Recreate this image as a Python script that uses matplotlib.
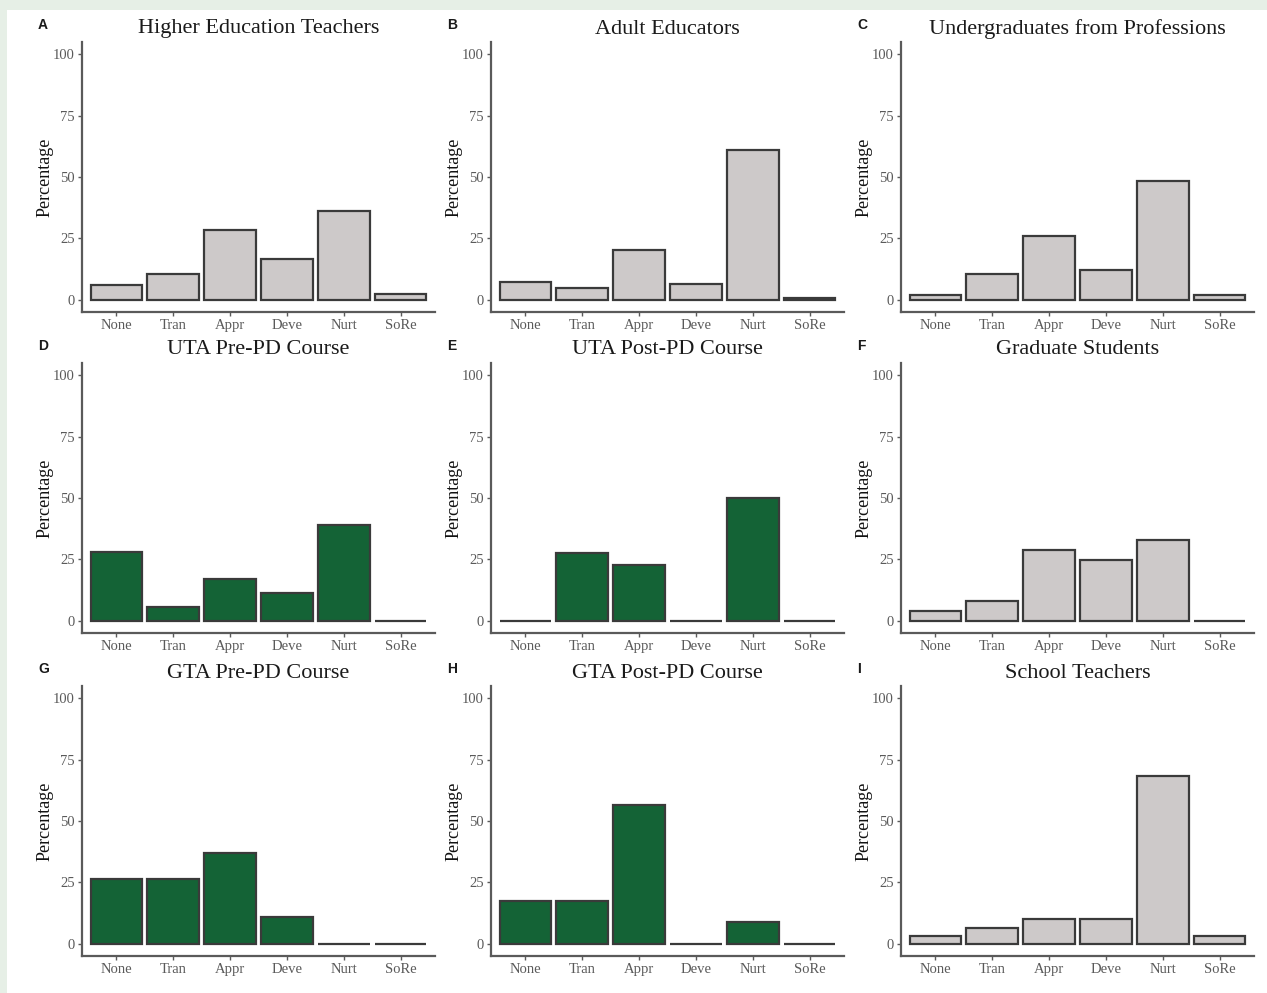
import matplotlib
matplotlib.use('Agg')
import matplotlib.pyplot as plt
from matplotlib.patches import Rectangle

# response categories shared by every panel
categories = ["None", "Tran", "Appr", "Deve", "Nurt", "SoRe"]

# percentage per category, one list per group
higher_ed = [5.8, 10.5, 28.5, 16.5, 36.0, 2.4]
adult_ed = [7.4, 4.9, 20.2, 6.6, 60.8, 0.7]
undergrad_prof = [2.0, 10.5, 26.0, 12.1, 48.3, 2.0]
uta_pre = [27.9, 5.7, 16.8, 11.1, 38.8, 0.0]
uta_post = [0.0, 27.4, 22.6, 0.0, 50.0, 0.0]
grad_students = [4.0, 8.1, 29.0, 24.9, 33.0, 0.0]
gta_pre = [26.4, 26.4, 37.1, 10.8, 0.0, 0.0]
gta_post = [17.6, 17.6, 56.5, 0.0, 8.8, 0.0]
school_teachers = [3.2, 6.3, 10.0, 10.2, 68.5, 3.0]

titles = ["Higher Education Teachers", "Adult Educators", "Undergraduates from Professions",
          "UTA Pre-PD Course", "UTA Post-PD Course", "Graduate Students",
          "GTA Pre-PD Course", "GTA Post-PD Course", "School Teachers"]
letters = ["A", "B", "C", "D", "E", "F", "G", "H", "I"]
series = [higher_ed, adult_ed, undergrad_prof,
          uta_pre, uta_post, grad_students,
          gta_pre, gta_post, school_teachers]
# UTA/GTA panels are the highlighted (green) ones
highlight = [False, False, False, True, True, False, True, True, False]

GREY = "#cdc9c9"
GREEN = "#146336"
EDGE = "#3a3a3a"
AXIS = "#5a5a5a"
SERIF = ["Liberation Serif", "DejaVu Serif"]

W, H = 1267, 993
fig = plt.figure(figsize=(W / 100, H / 100), dpi=100, facecolor="white")

# thin tinted border along top and left edge
fig.patches.append(Rectangle((0, 1 - 10 / H), 1, 10 / H, transform=fig.transFigure,
                             facecolor="#e6efe6", edgecolor="none", zorder=0))
fig.patches.append(Rectangle((0, 0), 7 / W, 1, transform=fig.transFigure,
                             facecolor="#e6efe6", edgecolor="none", zorder=0))

col_left = [82, 491, 901]
row_top = [42, 363, 686]
ax_w, ax_h = 353, 270

x = list(range(len(categories)))
for i in range(9):
    r, c = divmod(i, 3)
    left, top = col_left[c], row_top[r]
    ax = fig.add_axes([left / W, 1 - (top + ax_h) / H, ax_w / W, ax_h / H])
    fill = GREEN if highlight[i] else GREY
    ax.bar(x, series[i], width=0.9, color=fill, edgecolor=EDGE, linewidth=1.6, zorder=3)

    ax.set_xlim(-0.6, 5.6)
    ax.set_ylim(-5, 105)
    ax.set_yticks([0, 25, 50, 75, 100])
    ax.set_xticks(x)
    ax.set_xticklabels(categories)
    for s in ["top", "right"]:
        ax.spines[s].set_visible(False)
    for s in ["left", "bottom"]:
        ax.spines[s].set_color(AXIS)
        ax.spines[s].set_linewidth(1.6)
    ax.tick_params(axis="both", length=3, width=1, color=AXIS, pad=2,
                   labelsize=10.5, labelcolor="#5a5a5a")
    for lab in ax.get_xticklabels() + ax.get_yticklabels():
        lab.set_family(SERIF)
    ax.set_ylabel("Percentage", family=SERIF, fontsize=13, color="#111111", labelpad=-0.5)

    fig.text((left + ax_w / 2) / W, 1 - (top - 13) / H, titles[i], family=SERIF,
             fontsize=16, color="#1a1a1a", ha="center", va="center")
    fig.text((left - 44) / W, 1 - (top - 17) / H, letters[i], family=["Liberation Sans", "DejaVu Sans"],
             fontsize=10, fontweight="bold", color="#1a1a1a", ha="left", va="center")

fig.savefig("out.png", dpi=100, facecolor=fig.get_facecolor())
